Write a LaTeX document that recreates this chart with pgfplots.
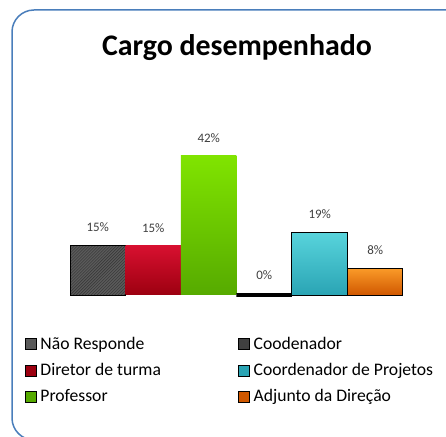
\documentclass[border=0pt]{standalone}
\usepackage{pgfplots}
\pgfplotsset{compat=1.18}
\usetikzlibrary{patterns}
\usepackage{fontspec}
\setmainfont{Carlito}

\definecolor{frameblue}{HTML}{4A7EBB}
\definecolor{labelgray}{HTML}{404040}
\definecolor{nrgray}{HTML}{5A5A5A}
\definecolor{redtop}{HTML}{D81030}
\definecolor{redbot}{HTML}{9C0010}
\definecolor{greentop}{HTML}{80E400}
\definecolor{greenbot}{HTML}{56AA00}
\definecolor{cyantop}{HTML}{58D4DC}
\definecolor{cyanbot}{HTML}{2AA4B4}
\definecolor{orangetop}{HTML}{FA9A28}
\definecolor{orangebot}{HTML}{D05800}

\begin{document}
\begin{tikzpicture}
\path[use as bounding box] (0bp,0bp) rectangle (446bp,437bp);
\begin{scope}
  \clip (0bp,0bp) rectangle (446bp,437bp);
  \draw[frameblue, line width=1.5bp, rounded corners=22bp] (12bp,-3bp) rectangle (480bp,427bp);
\end{scope}
\node[font=\fontsize{30}{36}\selectfont\bfseries] at (237bp,389bp) {Cargo desempenhado};

\begin{axis}[
  at={(70bp,142bp)}, anchor=south west,
  scale only axis, width=333bp, height=165.5bp,
  xmin=-0.5, xmax=5.5, ymin=0, ymax=50,
  axis lines=none, xtick=\empty, ytick=\empty,
  clip=false,
  ybar, bar width=1,
  /pgf/number format/assume math mode=true,
  nodes near coords={\pgfmathprintnumber[fixed,precision=0]{\pgfplotspointmeta}\%},
  nodes near coords style={font=\fontsize{13}{15}\selectfont, color=labelgray, anchor=south, inner sep=0pt, yshift=13bp},
  legend columns=2,
  legend style={at={(-0.144,-0.2296)}, anchor=north west, draw=none, fill=none,
    font=\fontsize{17.7}{21}\selectfont, row sep=8.5bp, cells={anchor=west}},
  legend image code/.code={\draw[#1] (0bp,-5.5bp) rectangle (11bp,5.5bp); \path (13bp,0bp);},
]
% Não Responde
\addplot[forget plot, bar shift=0pt, fill=nrgray, draw=black, line width=1bp,
  postaction={pattern=north east lines, pattern color=black!80}] coordinates {(0,15)};
% Diretor de turma
\addplot[forget plot, bar shift=0pt, draw=none, top color=redtop, bottom color=redbot] coordinates {(1,15)};
% Professor
\addplot[forget plot, bar shift=0pt, draw=none, top color=greentop, bottom color=greenbot] coordinates {(2,42)};
% Coodenador
\addplot[forget plot, bar shift=0pt, draw=black, line width=4bp] coordinates {(3,0)};
% Coordenador de Projetos
\addplot[forget plot, bar shift=0pt, draw=black, line width=1bp, top color=cyantop, bottom color=cyanbot] coordinates {(4,19)};
% Adjunto da Direção
\addplot[forget plot, bar shift=0pt, draw=black, line width=1bp, top color=orangetop, bottom color=orangebot] coordinates {(5,8)};

\addlegendimage{fill=nrgray, draw=none}
\addlegendentry{\makebox[196bp][l]{Não Responde}}
\addlegendimage{fill=black!75, draw=none}
\addlegendentry{Coodenador}
\addlegendimage{fill=redbot, draw=none}
\addlegendentry{\makebox[196bp][l]{Diretor de turma}}
\addlegendimage{fill=cyanbot, draw=none}
\addlegendentry{Coordenador de Projetos}
\addlegendimage{fill=greenbot, draw=none}
\addlegendentry{\makebox[196bp][l]{Professor}}
\addlegendimage{fill=orangebot, draw=none}
\addlegendentry{Adjunto da Direção}
\end{axis}
\end{tikzpicture}
\end{document}
